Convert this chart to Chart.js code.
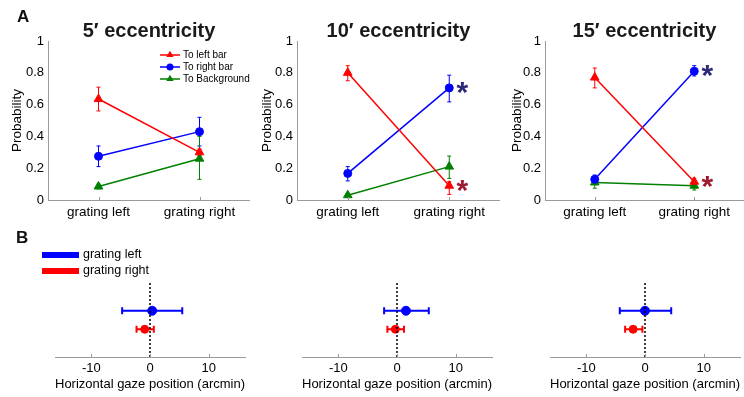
<!DOCTYPE html>
<html><head><meta charset="utf-8">
<script src="https://cdn.jsdelivr.net/npm/chart.js@4.4.0/dist/chart.umd.min.js"></script>
<style>
html,body{margin:0;padding:0;background:#fff;width:744px;height:397px;overflow:hidden;position:relative;}
canvas{position:absolute;}
</style></head><body>
<script>
// ---------- data ----------
const categories = ['grating left', 'grating right'];
const panelTitles = ['5\u2032 eccentricity', '10\u2032 eccentricity', '15\u2032 eccentricity'];
const probTicks = [0, 0.2, 0.4, 0.6, 0.8, 1];
const gazeTicks = [-10, 0, 10];

const toLeftBar      = [[0.635, 0.30], [0.80, 0.09], [0.77, 0.115]];
const toLeftBarLo    = [[0.56, 0.28], [0.75, 0.035], [0.705, 0.095]];
const toLeftBarHi    = [[0.71, 0.32], [0.845, 0.115], [0.83, 0.137]];
const toRightBar     = [[0.275, 0.43], [0.167, 0.705], [0.13, 0.81]];
const toRightBarLo   = [[0.21, 0.34], [0.12, 0.617], [0.105, 0.78]];
const toRightBarHi   = [[0.34, 0.52], [0.21, 0.785], [0.157, 0.845]];
const toBackground   = [[0.085, 0.26], [0.03, 0.21], [0.11, 0.09]];
const toBackgroundLo = [[0.07, 0.13], [0.02, 0.136], [0.074, 0.063]];
const toBackgroundHi = [[0.10, 0.40], [0.04, 0.276], [0.147, 0.116]];
const sigRightBar = [false, true, true];
const sigLeftBar  = [false, true, true];

const gazeGratingLeft    = [0.37, 1.53, 0.0];
const gazeGratingLeftLo  = [-4.75, -2.2, -4.3];
const gazeGratingLeftHi  = [5.5, 5.42, 4.47];
const gazeGratingRight   = [-0.9, -0.28, -2.03];
const gazeGratingRightLo = [-2.3, -1.64, -3.39];
const gazeGratingRightHi = [0.65, 1.19, -0.44];
const gazeZero = 0;

// ---------- styles / layout ----------
const RED = 'rgb(255,0,0)', BLUE = 'rgb(0,0,255)', GREEN = 'rgb(0,128,0)';
const AX = '#9a9a9a';
const FONT = '"Liberation Sans", Arial, Helvetica, sans-serif';
Chart.defaults.font.family = FONT;
Chart.defaults.color = '#000';

const aPanels = [{left:0,width:250,axis:48},{left:250,width:250,axis:47},{left:500,width:244,axis:45}];
const bPanels = [{left:0,width:250,padL:55,padR:5},{left:250,width:250,padL:52,padR:8},{left:500,width:244,padL:50,padR:4}];
const A_TOP = 0, A_H = 222, B_TOP = 230, B_H = 167;

function mkCanvas(left, top, w, h) {
  const c = document.createElement('canvas');
  c.width = w; c.height = h;
  c.style.left = left + 'px'; c.style.top = top + 'px';
  c.style.width = w + 'px'; c.style.height = h + 'px';
  document.body.appendChild(c);
  return c;
}

function zeroPad(s) { s.paddingLeft = 0; s.paddingRight = 0; s.paddingTop = 0; s.paddingBottom = 0; }

function drawTri(ctx, x, y, r) {
  ctx.beginPath();
  for (let k = 0; k < 3; k++) {
    const a = k * 2 * Math.PI / 3;
    const px = x + Math.sin(a) * r, py = y - Math.cos(a) * r;
    if (k === 0) ctx.moveTo(px, py); else ctx.lineTo(px, py);
  }
  ctx.closePath(); ctx.fill();
}

const extras = {
  id: 'extras',
  beforeDatasetsDraw(chart) {
    const ctx = chart.ctx, xs = chart.scales.x, ys = chart.scales.y;
    chart.data.datasets.forEach(ds => {
      if (ds.errLo) {
        ctx.save(); ctx.strokeStyle = ds.borderColor; ctx.lineWidth = 1;
        ds.data.forEach((pt, i) => {
          const x = xs.getPixelForValue(pt.x);
          const y1 = ys.getPixelForValue(ds.errLo[i]), y2 = ys.getPixelForValue(ds.errHi[i]);
          ctx.beginPath();
          ctx.moveTo(x, y1); ctx.lineTo(x, y2);
          ctx.moveTo(x - 2, y1); ctx.lineTo(x + 2, y1);
          ctx.moveTo(x - 2, y2); ctx.lineTo(x + 2, y2);
          ctx.stroke();
        });
        ctx.restore();
      }
      if (ds.xLo) {
        ctx.save(); ctx.strokeStyle = ds.borderColor; ctx.lineWidth = 2;
        ds.data.forEach((pt, i) => {
          const y = ys.getPixelForValue(pt.y);
          const x1 = xs.getPixelForValue(ds.xLo[i]), x2 = xs.getPixelForValue(ds.xHi[i]);
          ctx.beginPath();
          ctx.moveTo(x1, y); ctx.lineTo(x2, y);
          ctx.moveTo(x1, y - 3.5); ctx.lineTo(x1, y + 3.5);
          ctx.moveTo(x2, y - 3.5); ctx.lineTo(x2, y + 3.5);
          ctx.stroke();
        });
        ctx.restore();
      }
    });
  },
  afterDraw(chart, args, o) {
    const ctx = chart.ctx, xs = chart.scales.x, ys = chart.scales.y, ca = chart.chartArea;
    ctx.save();
    ctx.strokeStyle = AX; ctx.lineWidth = 1;
    xs.ticks.forEach(t => {
      const x = Math.round(xs.getPixelForValue(t.value)) + 0.5;
      ctx.beginPath(); ctx.moveTo(x, ca.bottom); ctx.lineTo(x, ca.bottom - 3); ctx.stroke();
    });
    if (o.title) {
      ctx.fillStyle = '#1a1a1a'; ctx.font = 'bold 20px ' + FONT;
      ctx.textAlign = 'center'; ctx.textBaseline = 'alphabetic';
      ctx.fillText(o.title, (ca.left + ca.right) / 2, 37);
    }
    if (o.letter) {
      ctx.fillStyle = '#111'; ctx.font = 'bold 17px ' + FONT;
      ctx.textAlign = 'left'; ctx.textBaseline = 'alphabetic';
      ctx.fillText(o.letter.text, o.letter.x, o.letter.y);
    }
    if (o.stars) {
      o.stars.forEach(s => {
        const ds = chart.data.datasets[s.ds];
        const pt = ds.data[ds.data.length - 1];
        const x = xs.getPixelForValue(pt.x) + 13, y = ys.getPixelForValue(pt.y);
        ctx.fillStyle = s.color; ctx.font = 'bold 30px ' + FONT;
        ctx.textAlign = 'center'; ctx.textBaseline = 'alphabetic';
        ctx.fillText('*', x, y + 14);
      });
    }
    if (o.legendA) {
      const rows = [55, 67, 79];
      chart.data.datasets.forEach((ds, i) => {
        const y = rows[i];
        ctx.strokeStyle = ds.borderColor; ctx.fillStyle = ds.borderColor; ctx.lineWidth = 1.5;
        ctx.beginPath(); ctx.moveTo(160, y); ctx.lineTo(180, y); ctx.stroke();
        if (ds.pointStyle === 'circle') { ctx.beginPath(); ctx.arc(170, y, 3.5, 0, Math.PI * 2); ctx.fill(); }
        else drawTri(ctx, 170, y, 4.2);
        ctx.fillStyle = '#000'; ctx.font = '10px ' + FONT;
        ctx.textAlign = 'left'; ctx.textBaseline = 'middle';
        ctx.fillText(ds.label, 183, y);
      });
    }
    if (o.legendB) {
      const rows = [25, 41];
      [1, 2].forEach((di, k) => {
        const ds = chart.data.datasets[di];
        ctx.strokeStyle = ds.borderColor; ctx.lineWidth = 6;
        ctx.beginPath(); ctx.moveTo(42, rows[k]); ctx.lineTo(79, rows[k]); ctx.stroke();
        ctx.fillStyle = '#000'; ctx.font = '12.5px ' + FONT;
        ctx.textAlign = 'left'; ctx.textBaseline = 'middle';
        ctx.fillText(ds.label, 83, rows[k]);
      });
    }
    ctx.restore();
  }
};

function vSeries(label, vals, lo, hi, color, style, radius) {
  return {
    label, data: vals.map((v, i) => ({x: i + 1, y: v})), errLo: lo, errHi: hi,
    borderColor: color, backgroundColor: color, pointBackgroundColor: color, pointBorderColor: color,
    borderWidth: 1.5, pointStyle: style, pointRadius: radius, pointHoverRadius: radius,
    pointBorderWidth: 1, tension: 0, fill: false
  };
}

aPanels.forEach((ap, p) => {
  const cv = mkCanvas(ap.left, A_TOP, ap.width, A_H);
  const stars = [];
  if (sigRightBar[p]) stars.push({ds: 1, color: '#2d2a7a'});
  if (sigLeftBar[p]) stars.push({ds: 0, color: '#9e1b32'});
  new Chart(cv, {
    type: 'line',
    data: {datasets: [
      vSeries('To left bar', toLeftBar[p], toLeftBarLo[p], toLeftBarHi[p], RED, 'triangle', 5),
      vSeries('To right bar', toRightBar[p], toRightBarLo[p], toRightBarHi[p], BLUE, 'circle', 4),
      vSeries('To Background', toBackground[p], toBackgroundLo[p], toBackgroundHi[p], GREEN, 'triangle', 5)
    ]},
    options: {
      responsive: false, animation: false, devicePixelRatio: 1, events: [],
      layout: {autoPadding: false, padding: {top: 41, left: 0, right: 0, bottom: 0}},
      plugins: {legend: {display: false}, tooltip: {enabled: false},
        extras: {title: panelTitles[p], stars, legendA: p === 0,
                 letter: p === 0 ? {text: 'A', x: 17, y: 22} : null}},
      scales: {
        x: {type: 'linear', min: 0.5, max: 2.5,
            afterBuildTicks: s => { s.ticks = categories.map((c, i) => ({value: i + 1})); },
            afterFit: s => { s.height = A_H - 200; zeroPad(s); },
            grid: {display: false, drawTicks: false},
            border: {display: true, color: AX, width: 1},
            ticks: {padding: 4, color: '#000', font: {size: 13.5}, maxRotation: 0,
                    callback: v => categories[v - 1]}},
        y: {min: 0, max: 1,
            afterBuildTicks: s => { s.ticks = probTicks.map(v => ({value: v})); },
            afterFit: s => { s.width = ap.axis; zeroPad(s); },
            grid: {display: false, drawTicks: false},
            border: {display: true, color: AX, width: 1},
            ticks: {padding: 4, color: '#000', font: {size: 13}, callback: v => String(v)},
            title: {display: true, text: 'Probability', color: '#000', font: {size: 13.5},
                    padding: {top: 9, bottom: 0}}}
      }
    },
    plugins: [extras]
  });
});

bPanels.forEach((bp, p) => {
  const cv = mkCanvas(bp.left, B_TOP, bp.width, B_H);
  new Chart(cv, {
    type: 'scatter',
    data: {datasets: [
      {label: 'zero', data: [{x: gazeZero, y: 0}, {x: gazeZero, y: 4}], showLine: true,
       borderColor: '#000', borderWidth: 1.5, borderDash: [2, 2], pointRadius: 0},
      {label: 'grating left', data: [{x: gazeGratingLeft[p], y: 2.5}],
       xLo: [gazeGratingLeftLo[p]], xHi: [gazeGratingLeftHi[p]],
       borderColor: BLUE, backgroundColor: BLUE, pointRadius: 4.5, pointHoverRadius: 4.5},
      {label: 'grating right', data: [{x: gazeGratingRight[p], y: 1.5}],
       xLo: [gazeGratingRightLo[p]], xHi: [gazeGratingRightHi[p]],
       borderColor: RED, backgroundColor: RED, pointRadius: 4, pointHoverRadius: 4}
    ]},
    options: {
      responsive: false, animation: false, devicePixelRatio: 1, events: [],
      layout: {autoPadding: false, padding: {top: 53, left: bp.padL, right: bp.padR, bottom: 0}},
      plugins: {legend: {display: false}, tooltip: {enabled: false},
        extras: {legendB: p === 0, letter: p === 0 ? {text: 'B', x: 16, y: 13} : null}},
      scales: {
        x: {type: 'linear', min: -16.2, max: 16.2,
            afterBuildTicks: s => { s.ticks = gazeTicks.map(v => ({value: v})); },
            afterFit: s => { s.height = 40; zeroPad(s); },
            grid: {display: false, drawTicks: false},
            border: {display: true, color: AX, width: 1},
            ticks: {padding: 4, color: '#000', font: {size: 13}, maxRotation: 0, callback: v => String(v)},
            title: {display: true, text: 'Horizontal gaze position (arcmin)', color: '#000',
                    font: {size: 13.5}, padding: {top: 0, bottom: 5}}},
        y: {display: false, min: 0, max: 4}
      }
    },
    plugins: [extras]
  });
});
</script>
</body></html>
